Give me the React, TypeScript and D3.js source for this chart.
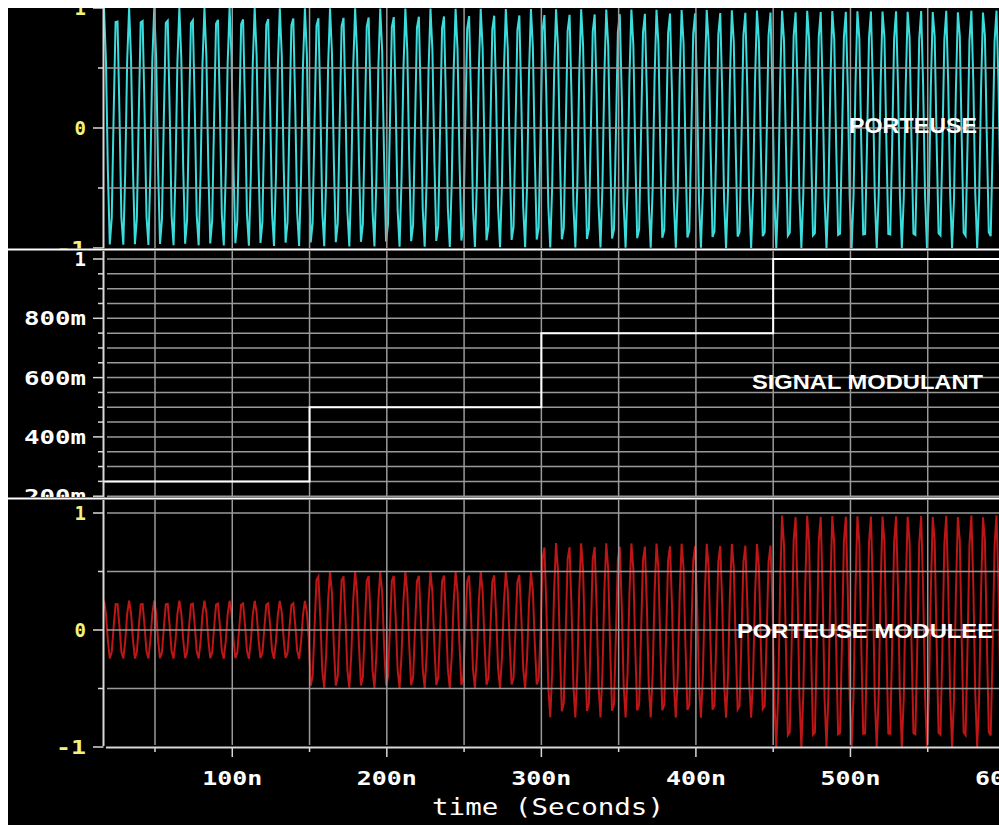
import React from 'react';
import * as d3 from 'd3';

// ---- data ----
const timeGridNs = [50, 100, 150, 200, 250, 300, 350, 400, 450, 500, 550, 600];
const timeLabelNs = [100, 200, 300, 400, 500, 600];
const timeLabels = ['100n', '200n', '300n', '400n', '500n', '600n'];
const timeDomainNs = [17, 600];

const modStepTimesNs = [17, 150, 300, 450, 600];
const modLevels = [0.25, 0.5, 0.75, 1.0, 1.0];

const carrierFreqMHz = 123;
const carrierAmplitude = 1;
const carrierPhaseNs = 17;
const sampleStepNs = 1.25;

const topMajor = [1, 0, -1];
const topMajorLabels = ['1', '0', '-1'];
const topMinor = [0.5, -0.5];

const midMajor = [1, 0.8, 0.6, 0.4, 0.2];
const midMajorLabels = ['1', '800m', '600m', '400m', '200m'];
const midGrid = [1, 0.95, 0.9, 0.85, 0.8, 0.75, 0.7, 0.65, 0.6, 0.55, 0.5, 0.45, 0.4, 0.35, 0.3, 0.25, 0.2];

const botMajor = [1, 0, -1];
const botMajorLabels = ['1', '0', '-1'];
const botMinor = [0.5, -0.5];

// ---- layout ----
const W = 999;
const H = 825;
const AXIS_X = 103.5;
const GRID = '#9a9a9a';
const YELLOW = '#f2f27c';
const MONO = '"DejaVu Sans Mono", monospace';
const SANS = '"Liberation Sans", Arial, sans-serif';

const x = d3.scaleLinear().domain(timeDomainNs).range([104, 1005]);
const yTop = d3.scaleLinear().domain([-1, 1]).range([248, 8]);
const yMid = d3.scaleLinear().domain([0, 1]).range([259 + 296.5, 259]);
const yBot = d3.scaleLinear().domain([-1, 1]).range([747, 513]);

function modAt(t: number) {
  let lvl = modLevels[0];
  for (let i = 0; i < modStepTimesNs.length; i++) if (t >= modStepTimesNs[i]) lvl = modLevels[i];
  return lvl;
}

const samples: number[] = d3.range(timeDomainNs[0], timeDomainNs[1] + sampleStepNs, sampleStepNs);
const carrier = samples.map((t) => ({
  t,
  v: carrierAmplitude * Math.cos(2 * Math.PI * carrierFreqMHz * 1e-3 * (t - carrierPhaseNs)),
}));
const modulated = carrier.map((d) => ({ t: d.t, v: d.v * modAt(d.t) }));
const modPoints = modStepTimesNs.map((t, i) => ({ t, v: modLevels[i] }));

const lineTop = d3.line<{ t: number; v: number }>().x((d) => x(d.t)).y((d) => yTop(d.v));
const lineBot = d3.line<{ t: number; v: number }>().x((d) => x(d.t)).y((d) => yBot(d.v));
const lineMid = d3
  .line<{ t: number; v: number }>()
  .x((d) => x(d.t))
  .y((d) => yMid(d.v))
  .curve(d3.curveStepAfter);

function TickLabel({ y, text, color }: { y: number; text: string; color: string }) {
  const len = text.length * 16 - 2;
  return (
    <text
      x={86}
      y={y}
      fill={color}
      fontFamily={MONO}
      fontWeight="bold"
      fontSize={19}
      textAnchor="end"
      dominantBaseline="central"
      textLength={text.length > 1 ? len : undefined}
      lengthAdjust="spacingAndGlyphs"
    >
      {text}
    </text>
  );
}

function VGrid({ y0, y1 }: { y0: number; y1: number }) {
  return (
    <g>
      {timeGridNs.map((t) => (
        <line key={t} x1={x(t)} x2={x(t)} y1={y0} y2={y1} stroke={GRID} strokeWidth={1.5} />
      ))}
    </g>
  );
}

function HGrid({ values, y }: { values: number[]; y: (v: number) => number }) {
  return (
    <g>
      {values.map((v) => (
        <line key={v} x1={107} x2={W} y1={y(v)} y2={y(v)} stroke={GRID} strokeWidth={1.5} />
      ))}
    </g>
  );
}

export default function App() {
  return (
    <svg
      width={W}
      height={H}
      style={{ position: 'absolute', left: 0, top: 0, display: 'block' }}
    >
      <defs>
        <clipPath id="clipTop">
          <rect x={0} y={8} width={W} height={240.5} />
        </clipPath>
        <clipPath id="clipMid">
          <rect x={0} y={251} width={W} height={246} />
        </clipPath>
        <clipPath id="clipBot">
          <rect x={0} y={500} width={W} height={H - 500} />
        </clipPath>
      </defs>
      <rect x={0} y={0} width={W} height={H} fill="#ffffff" />
      <rect x={8} y={8} width={W - 8} height={H - 8} fill="#000000" />

      {/* ---- top panel: PORTEUSE ---- */}
      <g clipPath="url(#clipTop)">
        <path d={lineTop(carrier) || ''} fill="none" stroke="#3cdcdc" strokeWidth={2} />
        <VGrid y0={8} y1={248} />
        <HGrid values={[0.5, 0, -0.5]} y={yTop} />
        <line x1={AXIS_X} x2={AXIS_X} y1={8} y2={248} stroke="#d8d8d8" strokeWidth={2} />
        {topMajor.map((v) => (
          <line key={v} x1={93} x2={AXIS_X} y1={yTop(v)} y2={yTop(v)} stroke="#d8d8d8" strokeWidth={1.5} />
        ))}
        {topMinor.map((v) => (
          <line key={v} x1={98} x2={AXIS_X} y1={yTop(v)} y2={yTop(v)} stroke="#d8d8d8" strokeWidth={1.5} />
        ))}
        {topMajor.map((v, i) => (
          <TickLabel key={v} y={yTop(v)} text={topMajorLabels[i]} color={YELLOW} />
        ))}
        <text x={849} y={125} fill="#ffffff" fontFamily={SANS} fontWeight="bold" fontSize={22}
          dominantBaseline="central" textLength={128} lengthAdjust="spacingAndGlyphs">PORTEUSE</text>
      </g>
      <line x1={8} x2={W} y1={249.5} y2={249.5} stroke="#ffffff" strokeWidth={2} />

      {/* ---- middle panel: SIGNAL MODULANT ---- */}
      <g clipPath="url(#clipMid)">
        <VGrid y0={251} y1={497} />
        <HGrid values={midGrid} y={yMid} />
        <path d={lineMid(modPoints) || ''} fill="none" stroke="#ffffff" strokeWidth={2} />
        <line x1={AXIS_X} x2={AXIS_X} y1={251} y2={497} stroke="#d8d8d8" strokeWidth={2} />
        {midGrid.map((v) => (
          <line key={v} x1={midMajor.includes(v) ? 93 : 98} x2={AXIS_X} y1={yMid(v)} y2={yMid(v)}
            stroke="#d8d8d8" strokeWidth={1.5} />
        ))}
        {midMajor.map((v, i) => (
          <TickLabel key={v} y={yMid(v)} text={midMajorLabels[i]} color="#ffffff" />
        ))}
        <text x={752} y={381} fill="#ffffff" fontFamily={SANS} fontWeight="bold" fontSize={21}
          dominantBaseline="central" textLength={231} lengthAdjust="spacingAndGlyphs">SIGNAL MODULANT</text>
      </g>
      <line x1={8} x2={W} y1={498.5} y2={498.5} stroke="#ffffff" strokeWidth={2} />

      {/* ---- bottom panel: PORTEUSE MODULEE ---- */}
      <g clipPath="url(#clipBot)">
        <path d={lineBot(modulated) || ''} fill="none" stroke="#bc1616" strokeWidth={2} />
        <VGrid y0={500} y1={745} />
        <HGrid values={[1, 0.5, 0, -0.5]} y={yBot} />
        <line x1={AXIS_X} x2={AXIS_X} y1={500} y2={746} stroke="#d8d8d8" strokeWidth={2} />
        {botMajor.map((v) => (
          <line key={v} x1={93} x2={AXIS_X} y1={yBot(v)} y2={yBot(v)} stroke="#d8d8d8" strokeWidth={1.5} />
        ))}
        {botMinor.map((v) => (
          <line key={v} x1={98} x2={AXIS_X} y1={yBot(v)} y2={yBot(v)} stroke="#d8d8d8" strokeWidth={1.5} />
        ))}
        {botMajor.map((v, i) => (
          <TickLabel key={v} y={yBot(v)} text={botMajorLabels[i]} color={YELLOW} />
        ))}
        {/* x axis */}
        <line x1={106} x2={W} y1={747.5} y2={747.5} stroke="#d8d8d8" strokeWidth={2} />
        {timeGridNs.map((t) => (
          <line key={t} x1={x(t)} x2={x(t)} y1={748} y2={timeLabelNs.includes(t) ? 757 : 752}
            stroke="#d8d8d8" strokeWidth={1.5} />
        ))}
        {timeLabelNs.map((t, i) => (
          <text key={t} x={x(t)} y={778} fill="#ffffff" fontFamily={MONO} fontWeight="bold" fontSize={19}
            textAnchor="middle" dominantBaseline="central" textLength={60} lengthAdjust="spacingAndGlyphs">
            {timeLabels[i]}
          </text>
        ))}
        <text x={548} y={807} fill="#ffffff" fontFamily={MONO} fontSize={23} textAnchor="middle"
          dominantBaseline="central" textLength={232} lengthAdjust="spacingAndGlyphs">time (Seconds)</text>
        <text x={737} y={630} fill="#ffffff" fontFamily={SANS} fontWeight="bold" fontSize={21}
          dominantBaseline="central" textLength={256} lengthAdjust="spacingAndGlyphs">PORTEUSE MODULEE</text>
      </g>
    </svg>
  );
}
